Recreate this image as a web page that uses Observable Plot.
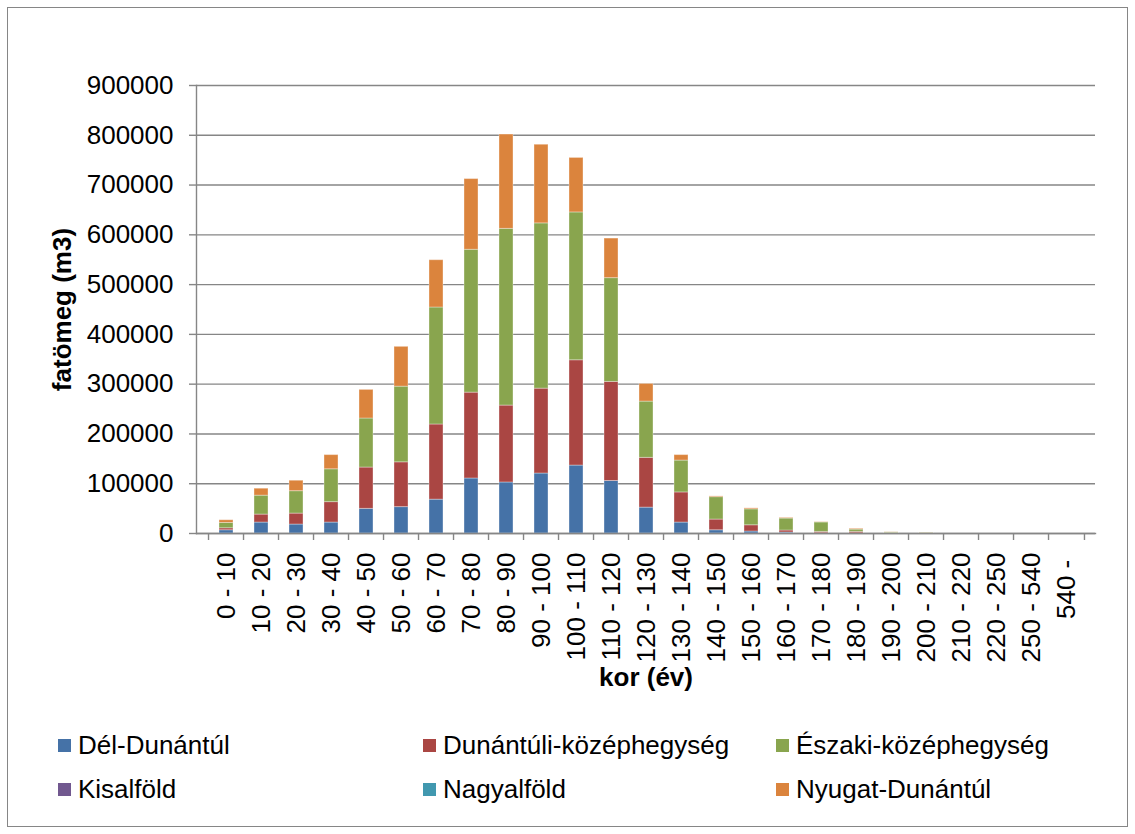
<!DOCTYPE html>
<html>
<head>
<meta charset="utf-8">
<script src="https://cdn.jsdelivr.net/npm/d3@7"></script>
<script src="https://cdn.jsdelivr.net/npm/@observablehq/plot@0.6"></script>
<style>
  html, body { margin: 0; padding: 0; background: #fff; }
  #wrap { position: relative; width: 1135px; height: 834px; overflow: hidden; font-family: "Liberation Sans", Arial, sans-serif; }
  #border { position: absolute; left: 7px; top: 7px; width: 1121px; height: 820px; box-sizing: border-box; border: 1.5px solid #868686; }
  #chart { position: absolute; left: 0; top: 0; }
  .leg { position: absolute; display: flex; align-items: center; font-size: 26px; color: #000; white-space: nowrap; }
  .sw { width: 13px; height: 13px; margin-right: 7px; flex: none; }
</style>
</head>
<body>
<div id="wrap">
  <div id="border"></div>
  <div id="chart"></div>
</div>
<script>
// ---- data ----
const categories = ["0 - 10","10 - 20","20 - 30","30 - 40","40 - 50","50 - 60","60 - 70","70 - 80","80 - 90","90 - 100","100 - 110","110 - 120","120 - 130","130 - 140","140 - 150","150 - 160","160 - 170","170 - 180","180 - 190","190 - 200","200 - 210","210 - 220","220 - 250","250 - 540","540 -"];
const regions = ["Dél-Dunántúl","Dunántúli-középhegység","Északi-középhegység","Kisalföld","Nagyalföld","Nyugat-Dunántúl"];
const colors = ["#4572A7","#AA4643","#89A54E","#71588F","#4198AF","#DB843D"];
const delDunantul   = [6500,22000,18000,22000,49500,53000,68000,110500,102500,120500,136500,105500,52000,22000,6500,4000,2000,500,300,0,0,0,0,0,0];
const dunantuliKozep= [4000,16000,22000,41000,83000,90000,151000,172500,154500,170500,211500,199000,100000,60500,21500,12500,4000,2700,3000,700,600,0,0,0,0];
const eszakiKozep   = [10700,38000,45000,66000,98500,152000,235000,287000,355000,332000,297000,208500,113000,64000,45000,32000,24000,19000,4500,1500,700,0,0,0,0];
const kisalfold     = [0,0,0,0,0,0,0,0,0,0,0,0,0,0,0,0,0,0,0,0,0,0,0,0,0];
const nagyalfold    = [0,0,0,0,0,0,0,0,0,0,0,0,0,0,0,0,0,0,0,0,0,0,0,0,0];
const nyugatDunantul= [5400,14000,21000,28500,57500,80000,95000,142000,189500,158000,109500,79500,35500,11000,1500,2000,1200,500,1500,300,0,0,0,0,0];
const yTicks = [0,100000,200000,300000,400000,500000,600000,700000,800000,900000];
const yTitle = "fatömeg (m3)";
const xTitle = "kor (év)";

const series = [delDunantul, dunantuliKozep, eszakiKozep, kisalfold, nagyalfold, nyugatDunantul];
const data = [];
categories.forEach((c, i) => regions.forEach((r, j) => data.push({age: c, region: r, value: series[j][i]})));

// ---- layout ----
const W = 1135, H = 700, mL = 196, mR = 40, mT = 85, mB = 167;
const step = (W - mL - mR) / categories.length;
const grey = "#868686";

const chart = Plot.plot({
  width: W, height: H,
  marginLeft: mL, marginRight: mR, marginTop: mT, marginBottom: mB,
  style: {fontFamily: "'Liberation Sans', Arial, sans-serif", fontSize: "26px", color: "#000", background: "transparent"},
  x: {type: "band", domain: categories, paddingInner: 0.6, paddingOuter: 0.3},
  y: {domain: [0, 900000]},
  color: {domain: regions, range: colors},
  marks: [
    Plot.gridY(yTicks, {stroke: grey, strokeOpacity: 1, strokeWidth: 1.4}),
    Plot.barY(data, {x: "age", y: "value", fill: "region", stroke: "white", strokeOpacity: 0.35, strokeWidth: 1}),
    Plot.frame({anchor: "left", stroke: grey, strokeWidth: 1.4}),
    Plot.frame({anchor: "bottom", stroke: grey, strokeWidth: 1.4}),
    Plot.axisY({ticks: yTicks, tickSize: 7, tickPadding: 16, stroke: grey, strokeWidth: 1.4, label: null, tickFormat: d => String(d), fill: "#000"}),
    Plot.axisX({tickSize: 0, tickPadding: 19, tickRotate: -90, label: null, fill: "#000",
      tickFormat: d => d.endsWith("-") ? d + "\u00a0" : d}),
    Plot.axisX({tickSize: 7, dx: -step / 2, stroke: grey, strokeWidth: 1.4, tickFormat: () => "", label: null}),
    Plot.axisX({ticks: [categories[categories.length - 1]], tickSize: 7, dx: step / 2, stroke: grey, strokeWidth: 1.4, tickFormat: () => "", label: null}),
    Plot.text([yTitle], {frameAnchor: "left", textAnchor: "middle", dx: -134, rotate: -90, fontWeight: "bold", fontSize: 26, fill: "#000"}),
    Plot.text([xTitle], {frameAnchor: "bottom", textAnchor: "middle", dy: 152, fontWeight: "bold", fontSize: 26, fill: "#000"})
  ]
});
document.getElementById("chart").appendChild(chart);

// ---- legend ----
const colX = [58, 423, 776];
const rowY = [745, 789];
const wrap = document.getElementById("wrap");
regions.forEach((r, j) => {
  const el = document.createElement("div");
  el.className = "leg";
  el.style.left = colX[j % 3] + "px";
  el.style.top = (rowY[Math.floor(j / 3)] - 16) + "px";
  el.style.height = "32px";
  const sw = document.createElement("span");
  sw.className = "sw";
  sw.style.background = colors[j];
  const tx = document.createElement("span");
  tx.textContent = r;
  el.appendChild(sw);
  el.appendChild(tx);
  wrap.appendChild(el);
});
</script>
</body>
</html>
